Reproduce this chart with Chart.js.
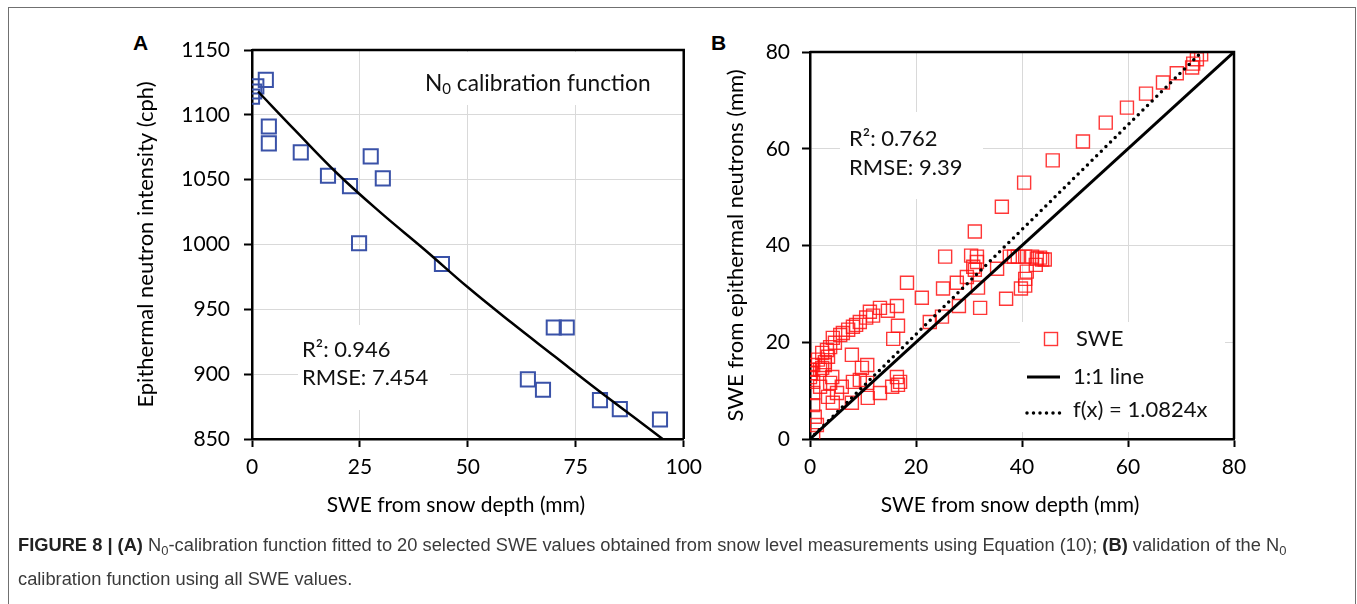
<!DOCTYPE html>
<html>
<head>
<meta charset="utf-8">
<script src="https://cdn.jsdelivr.net/npm/chart.js@4.4.0/dist/chart.umd.min.js"></script>
<style>
    body { margin: 0; background: #fff; width: 1357px; height: 604px; overflow: hidden; position: relative; }
    #frame { position: absolute; left: 8px; top: 7px; width: 1346px; height: 660px; border: 1.5px solid #707070; }
    .panel { position: absolute; font: bold 21px "Liberation Sans", Arial, sans-serif; color: #000; }
    .wrap { position: absolute; }
    #caption { position: absolute; left: 18px; top: 528px; width: 1334px; font: 18.3px "Liberation Sans", Arial, sans-serif; color: #3a3a3a; line-height: 34px; white-space: nowrap; }
    #caption b { color: #222; }
    #caption sub { font-size: 13px; vertical-align: -4px; line-height: 0; }
</style>
</head>
<body>
<div id="frame"></div>
<div class="panel" style="left:133px; top:31px;">A</div>
<div class="panel" style="left:711px; top:31px;">B</div>
<div class="wrap" style="left:100px; top:20px;"><canvas id="chartA" width="610" height="510"></canvas></div>
<div class="wrap" style="left:680px; top:20px;"><canvas id="chartB" width="600" height="510"></canvas></div>
<div id="caption"><b>FIGURE 8 | (A)</b> N<sub>0</sub>-calibration function fitted to 20 selected SWE values obtained from snow level measurements using Equation (10); <b>(B)</b> validation of the N<sub>0</sub><br>calibration function using all SWE values.</div>
<script>
// panel A: calibration points
var sweDepthA = [0, 0.5, 1, 3.2, 3.9, 3.9, 11.3, 17.6, 22.7, 27.5, 30.3, 24.8, 44, 63.9, 67.4, 69.9, 72.9, 80.6, 85.2, 94.5];
var neutronA = [1114, 1118, 1122, 1127, 1091, 1078, 1071, 1053, 1045, 1068, 1051, 1001, 985, 896, 888, 936, 936, 880, 873, 865];
// panel A: fitted N0 curve
var fitX = [1.4, 10, 20, 30, 40, 50, 60, 70, 80, 90, 95.5];
var fitY = [1118, 1088, 1054, 1024, 996, 967, 940, 914, 888, 863, 849];

// panel B: validation, all SWE values
var sweDepthB = [
    73.8, 73.0, 72.3, 72.1, 69.2, 66.6, 63.4, 59.8, 55.8, 51.5, 45.8, 40.4, 36.2, 31.1,
    25.5, 30.4, 31.5, 31.5, 30.8, 31.1, 29.6, 27.7, 25.1, 21.1, 18.3, 31.7, 28.1, 32.1, 35.3, 37.0,
    37.7, 38.5, 39.2, 40.6, 41.9, 42.8, 43.4, 43.8, 44.3, 42.6, 40.9, 40.6, 40.6, 39.8, 22.6, 24.9,
    16.4, 16.6, 15.7, 13.2, 11.3, 11.9, 9.4, 8.1, 6.2, 5.7, 4.3, 3.8, 3.2, 2.3, 1.5, 0.6, 0, 0, 0.6,
    0.2, 1.9, 2.8, 3.4, 2.8, 2.3, 4.7, 7.2, 10.6, 8.7, 14.7,
    7.9, 9.8, 10.8, 9.4, 10.8, 16.4, 17.0, 16.6, 15.5, 13.2, 10.9, 7.9, 5.1, 4.3, 3.4, 0.6, 0.6, 0.9,
    1.3, 0.6, 6.0, 8.1, 4.2, 3.8, 1.9
];
var sweNeutronB = [
    79.5, 78.5, 77.6, 76.8, 75.6, 73.7, 71.4, 68.5, 65.4, 61.5, 57.6, 53.0, 48.0, 42.9,
    37.7, 37.9, 37.7, 36.6, 35.6, 35.0, 33.5, 32.3, 31.1, 29.2, 32.3, 31.3, 27.5, 27.1, 35.2, 29.0,
    37.7, 37.7, 37.7, 37.7, 37.7, 37.3, 37.5, 37.1, 37.1, 36.0, 34.6, 33.1, 31.7, 31.1, 24.2, 25.3,
    27.5, 23.4, 20.7, 27.1, 26.3, 25.5, 24.2, 23.2, 21.9, 21.5, 20.9, 19.0, 18.4, 17.8, 16.4, 15.3, 14.3, 12.8, 11.8,
    13.6, 14.3, 15.9, 17.0, 15.3, 14.7, 19.9, 22.6, 25.1, 23.6, 26.5,
    17.4, 14.7, 15.3, 12.2, 11.6, 12.8, 11.8, 11.2, 10.8, 9.5, 8.5, 7.5, 9.5, 7.5, 8.7, 9.5, 7.0, 4.6,
    2.9, 0.8, 10.8, 11.8, 12.8, 11.6, 10.8
];
var oneToOneX = [0, 80];
var oneToOneY = [0, 80];
var fitLineX = [0, 73.9];
var fitLineY = [0, 80];

function toPoints(xs, ys) {
    var out = [];
    for (var i = 0; i < xs.length; i++) {
        out.push({ x: xs[i], y: ys[i] });
    }
    return out;
}

var fontFamily = 'Lato, "Open Sans", sans-serif';

function drawTextParts(ctx, x, y, parts) {
    // parts: [text, size, dy]
    for (var i = 0; i < parts.length; i++) {
        ctx.font = parts[i][1] + 'px ' + fontFamily;
        ctx.fillText(parts[i][0], x, y + parts[i][2]);
        x += ctx.measureText(parts[i][0]).width;
    }
}

function boxPlugin(cfg) {
    return {
        id: 'boxes',
        beforeDatasetsDraw: function (chart) {
            var ctx = chart.ctx, a = chart.chartArea;
            ctx.save();
            ctx.beginPath();
            ctx.rect(a.left + 2, a.top + 2, a.right - a.left - 4, a.bottom - a.top - 4);
            ctx.clip();
            ctx.fillStyle = '#fff';
            cfg.boxes.forEach(function (b) { ctx.fillRect(b[0], b[1], b[2], b[3]); });
            ctx.restore();
        },
        afterDraw: function (chart) {
            var ctx = chart.ctx, a = chart.chartArea;
            ctx.save();
            ctx.fillStyle = '#111';
            cfg.draw(ctx);
            // x axis title, sits a little left of the plot centre
            ctx.fillStyle = '#000';
            ctx.font = '21px ' + fontFamily;
            ctx.textAlign = 'center';
            ctx.textBaseline = 'middle';
            ctx.fillText(cfg.xTitle, (a.left + a.right) / 2 - 12, 485);
            ctx.strokeStyle = '#000';
            ctx.lineWidth = 2.5;
            ctx.beginPath();
            ctx.moveTo(a.left, a.top);
            ctx.lineTo(a.right, a.top);
            ctx.lineTo(a.right, a.bottom);
            ctx.stroke();
            ctx.restore();
        }
    };
}

function axisOpts(min, max, step, title, fit, isX, tickPad) {
    return {
        type: 'linear',
        min: min,
        max: max,
        ticks: {
            stepSize: step, color: '#000', padding: tickPad, font: { family: fontFamily, size: 21 },
            callback: function (v) { return String(v); }
        },
        grid: { color: '#d9d9d9', lineWidth: 1, tickColor: '#000', tickWidth: 2, tickLength: 8 },
        border: { color: '#000', width: 2.5 },
        title: { display: !isX, text: title, color: '#000', padding: { top: 4, bottom: 0 }, font: { family: fontFamily, size: 22 } },
        afterFit: function (scale) {
            if (isX) scale.height = fit; else scale.width = fit;
        }
    };
}

var ctxA = document.getElementById('chartA').getContext('2d');
var chartA = new Chart(ctxA, {
    type: 'scatter',
    data: {
        datasets: [{
            label: 'fit',
            type: 'line',
            data: toPoints(fitX, fitY),
            borderColor: '#000',
            borderWidth: 2.5,
            pointRadius: 0,
            tension: 0.4,
            fill: false
        }, {
            label: 'calibration',
            data: toPoints(sweDepthA, neutronA),
            pointStyle: 'rect',
            pointRadius: 10,
            pointBorderWidth: 2,
            pointBorderColor: '#3a52a8',
            pointBackgroundColor: 'rgba(0,0,0,0)'
        }]
    },
    options: {
        responsive: false,
        animation: false,
        devicePixelRatio: 1,
        layout: { padding: { left: 29, top: 30, right: 26, bottom: 0 } },
        plugins: { legend: { display: false }, tooltip: { enabled: false } },
        scales: {
            x: axisOpts(0, 100, 25, 'SWE from snow depth (mm)', 91, true, 8),
            y: axisOpts(850, 1150, 50, 'Epithermal neutron intensity (cph)', 123, false, 14)
        }
    },
    plugins: [boxPlugin({
        xTitle: 'SWE from snow depth (mm)',
        boxes: [[320, 30, 237, 55], [198, 305, 152, 85]],
        draw: function (ctx) {
            ctx.textBaseline = 'middle';
            drawTextParts(ctx, 325, 64, [['N', 22.7, 0], ['0', 15, 5], [' calibration function', 22.7, 0]]);
            ctx.textBaseline = 'alphabetic';
            ctx.font = '22px ' + fontFamily;
            ctx.fillText('R\u00b2: 0.946', 202, 337);
            ctx.fillText('RMSE: 7.454', 202, 365);
        }
    })]
});

var ctxB = document.getElementById('chartB').getContext('2d');
var chartB = new Chart(ctxB, {
    type: 'scatter',
    data: {
        datasets: [{
            label: 'f(x) = 1.0824x',
            type: 'line',
            data: toPoints(fitLineX, fitLineY),
            borderColor: '#000',
            borderWidth: 3.5,
            borderDash: [0, 6.5],
            borderCapStyle: 'round',
            pointRadius: 0,
            fill: false
        }, {
            label: '1:1 line',
            type: 'line',
            data: toPoints(oneToOneX, oneToOneY),
            borderColor: '#000',
            borderWidth: 3,
            pointRadius: 0,
            fill: false
        }, {
            label: 'SWE',
            data: toPoints(sweDepthB, sweNeutronB),
            pointStyle: 'rect',
            pointRadius: 9.2,
            pointBorderWidth: 1.4,
            pointBorderColor: 'rgba(255,20,20,0.85)',
            pointBackgroundColor: 'rgba(0,0,0,0)'
        }]
    },
    options: {
        responsive: false,
        animation: false,
        devicePixelRatio: 1,
        layout: { padding: { left: 39, top: 32, right: 46, bottom: 0 } },
        plugins: { legend: { display: false }, tooltip: { enabled: false } },
        scales: {
            x: axisOpts(0, 80, 20, 'SWE from snow depth (mm)', 91, true, 8),
            y: axisOpts(0, 80, 20, 'SWE from epithermal neutrons (mm)', 91, false, 12)
        }
    },
    plugins: [boxPlugin({
        xTitle: 'SWE from snow depth (mm)',
        boxes: [[160, 92, 143, 87], [340, 302, 205, 110]],
        draw: function (ctx) {
            ctx.font = '22px ' + fontFamily;
            ctx.textBaseline = 'alphabetic';
            ctx.fillText('R\u00b2: 0.762', 169, 126);
            ctx.fillText('RMSE: 9.39', 169, 155);
            // legend
            ctx.strokeStyle = 'rgba(255,20,20,0.85)';
            ctx.lineWidth = 1.4;
            ctx.strokeRect(371 - 6.5, 319 - 6.5, 13, 13);
            ctx.strokeStyle = '#000';
            ctx.lineWidth = 3;
            ctx.beginPath();
            ctx.moveTo(347, 357);
            ctx.lineTo(380, 357);
            ctx.stroke();
            ctx.lineWidth = 3.5;
            ctx.lineCap = 'round';
            ctx.setLineDash([0, 6.5]);
            ctx.beginPath();
            ctx.moveTo(347, 393);
            ctx.lineTo(381, 393);
            ctx.stroke();
            ctx.setLineDash([]);
            ctx.lineCap = 'butt';
            ctx.textBaseline = 'middle';
            ctx.font = '22px ' + fontFamily;
            ctx.fillText('SWE', 396, 319);
            ctx.fillText('1:1 line', 393, 357);
            ctx.fillText('f(x) = 1.0824x', 393, 390);
        }
    })]
});
</script>
</body>
</html>
